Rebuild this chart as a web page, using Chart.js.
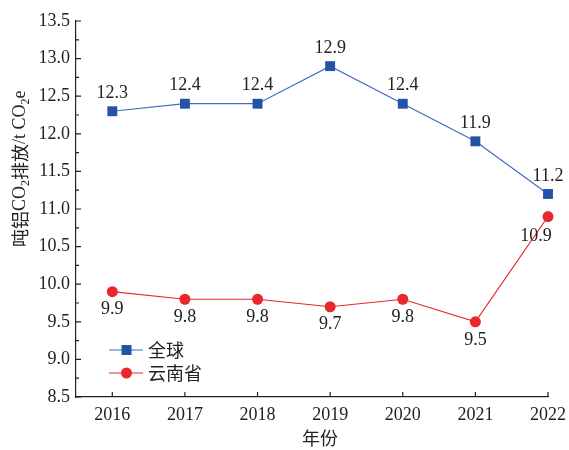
<!DOCTYPE html>
<html>
<head>
<meta charset="utf-8">
<script src="https://cdn.jsdelivr.net/npm/chart.js@4.4.1/dist/chart.umd.min.js"></script>
<style>
  html, body { margin: 0; padding: 0; background: #fff; }
  #wrap { width: 569px; height: 450px; }
</style>
</head>
<body>
<div id="wrap"><canvas id="c" width="569" height="450"></canvas></div>
<script>
// données
const years = [2016, 2017, 2018, 2019, 2020, 2021, 2022];
const globalValues = [12.3, 12.4, 12.4, 12.9, 12.4, 11.9, 11.2];
const yunnanValues = [9.9, 9.8, 9.8, 9.7, 9.8, 9.5, 10.9];
const yTicks = [8.5, 9.0, 9.5, 10.0, 10.5, 11.0, 11.5, 12.0, 12.5, 13.0, 13.5];
const seriesNames = ['全球', '云南省'];

const SERIF = '"Liberation Serif", "Times New Roman", serif';
const CJK = '"Noto Sans CJK SC", sans-serif';
const blue = '#2453a6';
const blueLine = '#3f6cc0';
const red = '#e8282c';

function mixFont(ctx, text, x, y, size) {
    // dessine un texte mêlant chiffres latins et caractères chinois
    let cx = x;
    for (const ch of text) {
        const isCjk = /[\u4e00-\u9fff]/.test(ch);
        ctx.font = size + 'px ' + (isCjk ? CJK : SERIF);
        ctx.fillText(ch, cx, y);
        cx += ctx.measureText(ch).width;
    }
    return cx;
}

const customDraw = {
    id: 'customDraw',
    afterDraw(chart) {
        const ctx = chart.ctx;
        const xs = chart.scales.x, ys = chart.scales.y;
        const area = chart.chartArea;
        ctx.save();
        // graduations vers l'intérieur
        ctx.strokeStyle = '#222';
        ctx.lineWidth = 1.2;
        ctx.beginPath();
        yTicks.forEach((v, i) => {
            const py = ys.getPixelForValue(v);
            ctx.moveTo(area.left, py); ctx.lineTo(area.left + 5, py);
            if (i < yTicks.length - 1) {
                const pm = ys.getPixelForValue(v + 0.25);
                ctx.moveTo(area.left, pm); ctx.lineTo(area.left + 3, pm);
            }
        });
        years.forEach(yr => {
            const px = xs.getPixelForValue(yr);
            ctx.moveTo(px, area.bottom); ctx.lineTo(px, area.bottom - 5);
        });
        ctx.stroke();

        // étiquettes des valeurs
        ctx.fillStyle = '#222';
        ctx.font = '18px ' + SERIF;
        ctx.textAlign = 'center';
        ctx.textBaseline = 'middle';
        chart.getDatasetMeta(0).data.forEach((p, i) => {
            ctx.fillText(globalValues[i].toFixed(1), p.x, p.y - 18);
        });
        chart.getDatasetMeta(1).data.forEach((p, i) => {
            if (i === years.length - 1) {
                ctx.fillText(yunnanValues[i].toFixed(1), p.x - 12, p.y + 20);
            } else {
                ctx.fillText(yunnanValues[i].toFixed(1), p.x, p.y + 18);
            }
        });

        // légende
        const legend = [
            { name: seriesNames[0], line: blueLine, fill: blue, style: 'rect', y: 350 },
            { name: seriesNames[1], line: red, fill: red, style: 'circle', y: 373 }
        ];
        legend.forEach(l => {
            ctx.strokeStyle = l.line;
            ctx.lineWidth = 1.2;
            ctx.beginPath();
            ctx.moveTo(109, l.y); ctx.lineTo(143, l.y);
            ctx.stroke();
            ctx.fillStyle = l.fill;
            if (l.style === 'rect') {
                ctx.fillRect(121.5, l.y - 5, 10, 10);
            } else {
                ctx.beginPath(); ctx.arc(126.5, l.y, 5.5, 0, Math.PI * 2); ctx.fill();
            }
            ctx.fillStyle = '#222';
            ctx.textAlign = 'left';
            ctx.font = '18px ' + CJK;
            ctx.fillText(l.name, 148, l.y);
        });

        // titre de l'axe x
        ctx.textAlign = 'center';
        ctx.font = '18px ' + CJK;
        ctx.fillText('年份', 320, 438);

        // titre de l'axe y avec indices
        ctx.translate(20, 247);
        ctx.rotate(-Math.PI / 2);
        ctx.textAlign = 'left';
        let x = 0;
        const parts = [['吨铝CO', 0], ['2', 1], ['排放/t CO', 0], ['2', 1], ['e', 0]];
        parts.forEach(([t, sub]) => {
            if (sub) {
                ctx.font = '12px ' + SERIF;
                ctx.fillText(t, x, 6);
                x += ctx.measureText(t).width;
            } else {
                x = mixFont(ctx, t, x, 0, 18);
            }
        });
        ctx.restore();
    }
};

const ctx = document.getElementById('c').getContext('2d');
const chart = new Chart(ctx, {
    type: 'line',
    data: {
        datasets: [
            {
                label: seriesNames[0],
                data: years.map((yr, i) => ({ x: yr, y: globalValues[i] })),
                borderColor: blueLine,
                borderWidth: 1.2,
                backgroundColor: blue,
                pointStyle: 'rect',
                pointRadius: 7,
                pointBorderWidth: 0,
                tension: 0,
                clip: false
            },
            {
                label: seriesNames[1],
                data: years.map((yr, i) => ({ x: yr, y: yunnanValues[i] })),
                borderColor: red,
                borderWidth: 1.2,
                backgroundColor: red,
                pointStyle: 'circle',
                pointRadius: 5.5,
                pointBorderWidth: 0,
                tension: 0,
                clip: false
            }
        ]
    },
    options: {
        responsive: false,
        animation: false,
        layout: { padding: { top: 21, right: 21, left: 0, bottom: 0 } },
        plugins: { legend: { display: false }, tooltip: { enabled: false } },
        scales: {
            x: {
                type: 'linear',
                min: 2015.5,
                max: 2022,
                afterBuildTicks: s => { s.ticks = years.map(v => ({ value: v })); },
                afterFit: s => { s.height = 53; s.paddingRight = 0; s.paddingLeft = 0; },
                grid: { drawOnChartArea: false, drawTicks: false },
                border: { color: '#222', width: 1.2 },
                ticks: {
                    padding: 7,
                    color: '#222',
                    font: { family: SERIF, size: 18 },
                    callback: v => String(v)
                }
            },
            y: {
                min: 8.5,
                max: 13.5,
                afterBuildTicks: s => { s.ticks = yTicks.map(v => ({ value: v })); },
                afterFit: s => { s.width = 76; s.paddingTop = 0; s.paddingBottom = 0; },
                grid: { drawOnChartArea: false, drawTicks: false },
                border: { color: '#222', width: 1.2 },
                ticks: {
                    padding: 6,
                    color: '#222',
                    font: { family: SERIF, size: 18 },
                    callback: v => v.toFixed(1)
                }
            }
        }
    },
    plugins: [customDraw]
});
</script>
</body>
</html>
